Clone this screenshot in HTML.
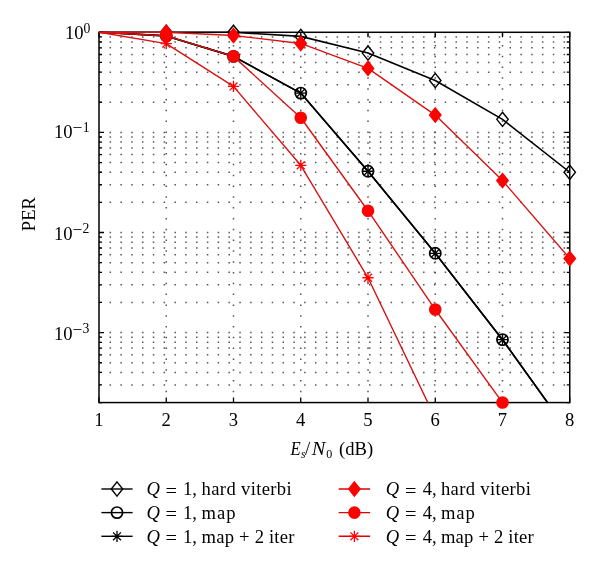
<!DOCTYPE html>
<html><head><meta charset="utf-8"><style>
html,body{margin:0;padding:0;background:#fff;}
svg{display:block;}
.t{font-family:"Liberation Serif",serif;font-size:18.6px;fill:#000;}
.sup{font-size:13.7px;}
.sub{font-size:12px;}
</style></head><body>
<svg width="600" height="569" viewBox="0 0 600 569">
<defs><clipPath id="c"><rect x="99.0" y="31.299999999999997" width="470.75" height="371.27"/></clipPath></defs>
<rect width="600" height="569" fill="#fff"/>
<line x1="166.25" y1="402.57" x2="166.25" y2="32.30" stroke="#555" stroke-width="1.5" stroke-dasharray="1.5 9.31" stroke-dashoffset="0.6"/>
<line x1="233.50" y1="402.57" x2="233.50" y2="32.30" stroke="#555" stroke-width="1.5" stroke-dasharray="1.5 9.31" stroke-dashoffset="0.6"/>
<line x1="300.75" y1="402.57" x2="300.75" y2="32.30" stroke="#555" stroke-width="1.5" stroke-dasharray="1.5 9.31" stroke-dashoffset="0.6"/>
<line x1="368.00" y1="402.57" x2="368.00" y2="32.30" stroke="#555" stroke-width="1.5" stroke-dasharray="1.5 9.31" stroke-dashoffset="0.6"/>
<line x1="435.25" y1="402.57" x2="435.25" y2="32.30" stroke="#555" stroke-width="1.5" stroke-dasharray="1.5 9.31" stroke-dashoffset="0.6"/>
<line x1="502.50" y1="402.57" x2="502.50" y2="32.30" stroke="#555" stroke-width="1.5" stroke-dasharray="1.5 9.31" stroke-dashoffset="0.6"/>
<line x1="99.00" y1="384.94" x2="569.75" y2="384.94" stroke="#555" stroke-width="1.5" stroke-dasharray="1.5 9.31" stroke-dashoffset="0.25"/>
<line x1="99.00" y1="372.43" x2="569.75" y2="372.43" stroke="#555" stroke-width="1.5" stroke-dasharray="1.5 9.31" stroke-dashoffset="0.25"/>
<line x1="99.00" y1="362.73" x2="569.75" y2="362.73" stroke="#555" stroke-width="1.5" stroke-dasharray="1.5 9.31" stroke-dashoffset="0.25"/>
<line x1="99.00" y1="354.81" x2="569.75" y2="354.81" stroke="#555" stroke-width="1.5" stroke-dasharray="1.5 9.31" stroke-dashoffset="0.25"/>
<line x1="99.00" y1="348.11" x2="569.75" y2="348.11" stroke="#555" stroke-width="1.5" stroke-dasharray="1.5 9.31" stroke-dashoffset="0.25"/>
<line x1="99.00" y1="342.30" x2="569.75" y2="342.30" stroke="#555" stroke-width="1.5" stroke-dasharray="1.5 9.31" stroke-dashoffset="0.25"/>
<line x1="99.00" y1="337.18" x2="569.75" y2="337.18" stroke="#555" stroke-width="1.5" stroke-dasharray="1.5 9.31" stroke-dashoffset="0.25"/>
<line x1="99.00" y1="332.60" x2="569.75" y2="332.60" stroke="#555" stroke-width="1.5" stroke-dasharray="1.5 9.31" stroke-dashoffset="0.25"/>
<line x1="99.00" y1="302.47" x2="569.75" y2="302.47" stroke="#555" stroke-width="1.5" stroke-dasharray="1.5 9.31" stroke-dashoffset="0.25"/>
<line x1="99.00" y1="284.84" x2="569.75" y2="284.84" stroke="#555" stroke-width="1.5" stroke-dasharray="1.5 9.31" stroke-dashoffset="0.25"/>
<line x1="99.00" y1="272.33" x2="569.75" y2="272.33" stroke="#555" stroke-width="1.5" stroke-dasharray="1.5 9.31" stroke-dashoffset="0.25"/>
<line x1="99.00" y1="262.63" x2="569.75" y2="262.63" stroke="#555" stroke-width="1.5" stroke-dasharray="1.5 9.31" stroke-dashoffset="0.25"/>
<line x1="99.00" y1="254.71" x2="569.75" y2="254.71" stroke="#555" stroke-width="1.5" stroke-dasharray="1.5 9.31" stroke-dashoffset="0.25"/>
<line x1="99.00" y1="248.01" x2="569.75" y2="248.01" stroke="#555" stroke-width="1.5" stroke-dasharray="1.5 9.31" stroke-dashoffset="0.25"/>
<line x1="99.00" y1="242.20" x2="569.75" y2="242.20" stroke="#555" stroke-width="1.5" stroke-dasharray="1.5 9.31" stroke-dashoffset="0.25"/>
<line x1="99.00" y1="237.08" x2="569.75" y2="237.08" stroke="#555" stroke-width="1.5" stroke-dasharray="1.5 9.31" stroke-dashoffset="0.25"/>
<line x1="99.00" y1="232.50" x2="569.75" y2="232.50" stroke="#555" stroke-width="1.5" stroke-dasharray="1.5 9.31" stroke-dashoffset="0.25"/>
<line x1="99.00" y1="202.37" x2="569.75" y2="202.37" stroke="#555" stroke-width="1.5" stroke-dasharray="1.5 9.31" stroke-dashoffset="0.25"/>
<line x1="99.00" y1="184.74" x2="569.75" y2="184.74" stroke="#555" stroke-width="1.5" stroke-dasharray="1.5 9.31" stroke-dashoffset="0.25"/>
<line x1="99.00" y1="172.23" x2="569.75" y2="172.23" stroke="#555" stroke-width="1.5" stroke-dasharray="1.5 9.31" stroke-dashoffset="0.25"/>
<line x1="99.00" y1="162.53" x2="569.75" y2="162.53" stroke="#555" stroke-width="1.5" stroke-dasharray="1.5 9.31" stroke-dashoffset="0.25"/>
<line x1="99.00" y1="154.61" x2="569.75" y2="154.61" stroke="#555" stroke-width="1.5" stroke-dasharray="1.5 9.31" stroke-dashoffset="0.25"/>
<line x1="99.00" y1="147.91" x2="569.75" y2="147.91" stroke="#555" stroke-width="1.5" stroke-dasharray="1.5 9.31" stroke-dashoffset="0.25"/>
<line x1="99.00" y1="142.10" x2="569.75" y2="142.10" stroke="#555" stroke-width="1.5" stroke-dasharray="1.5 9.31" stroke-dashoffset="0.25"/>
<line x1="99.00" y1="136.98" x2="569.75" y2="136.98" stroke="#555" stroke-width="1.5" stroke-dasharray="1.5 9.31" stroke-dashoffset="0.25"/>
<line x1="99.00" y1="132.40" x2="569.75" y2="132.40" stroke="#555" stroke-width="1.5" stroke-dasharray="1.5 9.31" stroke-dashoffset="0.25"/>
<line x1="99.00" y1="102.27" x2="569.75" y2="102.27" stroke="#555" stroke-width="1.5" stroke-dasharray="1.5 9.31" stroke-dashoffset="0.25"/>
<line x1="99.00" y1="84.64" x2="569.75" y2="84.64" stroke="#555" stroke-width="1.5" stroke-dasharray="1.5 9.31" stroke-dashoffset="0.25"/>
<line x1="99.00" y1="72.13" x2="569.75" y2="72.13" stroke="#555" stroke-width="1.5" stroke-dasharray="1.5 9.31" stroke-dashoffset="0.25"/>
<line x1="99.00" y1="62.43" x2="569.75" y2="62.43" stroke="#555" stroke-width="1.5" stroke-dasharray="1.5 9.31" stroke-dashoffset="0.25"/>
<line x1="99.00" y1="54.51" x2="569.75" y2="54.51" stroke="#555" stroke-width="1.5" stroke-dasharray="1.5 9.31" stroke-dashoffset="0.25"/>
<line x1="99.00" y1="47.81" x2="569.75" y2="47.81" stroke="#555" stroke-width="1.5" stroke-dasharray="1.5 9.31" stroke-dashoffset="0.25"/>
<line x1="99.00" y1="42.00" x2="569.75" y2="42.00" stroke="#555" stroke-width="1.5" stroke-dasharray="1.5 9.31" stroke-dashoffset="0.25"/>
<line x1="99.00" y1="36.88" x2="569.75" y2="36.88" stroke="#555" stroke-width="1.5" stroke-dasharray="1.5 9.31" stroke-dashoffset="0.25"/>
<rect x="99.00" y="32.30" width="470.75" height="370.27" fill="none" stroke="#000" stroke-width="1.5"/>
<path d="M99.00 402.57v-5M99.00 32.30v5M166.25 402.57v-5M166.25 32.30v5M233.50 402.57v-5M233.50 32.30v5M300.75 402.57v-5M300.75 32.30v5M368.00 402.57v-5M368.00 32.30v5M435.25 402.57v-5M435.25 32.30v5M502.50 402.57v-5M502.50 32.30v5M569.75 402.57v-5M569.75 32.30v5M99.00 402.57h3M569.75 402.57h-3M99.00 384.94h3M569.75 384.94h-3M99.00 372.43h3M569.75 372.43h-3M99.00 362.73h3M569.75 362.73h-3M99.00 354.81h3M569.75 354.81h-3M99.00 348.11h3M569.75 348.11h-3M99.00 342.30h3M569.75 342.30h-3M99.00 337.18h3M569.75 337.18h-3M99.00 332.60h5M569.75 332.60h-5M99.00 302.47h3M569.75 302.47h-3M99.00 284.84h3M569.75 284.84h-3M99.00 272.33h3M569.75 272.33h-3M99.00 262.63h3M569.75 262.63h-3M99.00 254.71h3M569.75 254.71h-3M99.00 248.01h3M569.75 248.01h-3M99.00 242.20h3M569.75 242.20h-3M99.00 237.08h3M569.75 237.08h-3M99.00 232.50h5M569.75 232.50h-5M99.00 202.37h3M569.75 202.37h-3M99.00 184.74h3M569.75 184.74h-3M99.00 172.23h3M569.75 172.23h-3M99.00 162.53h3M569.75 162.53h-3M99.00 154.61h3M569.75 154.61h-3M99.00 147.91h3M569.75 147.91h-3M99.00 142.10h3M569.75 142.10h-3M99.00 136.98h3M569.75 136.98h-3M99.00 132.40h5M569.75 132.40h-5M99.00 102.27h3M569.75 102.27h-3M99.00 84.64h3M569.75 84.64h-3M99.00 72.13h3M569.75 72.13h-3M99.00 62.43h3M569.75 62.43h-3M99.00 54.51h3M569.75 54.51h-3M99.00 47.81h3M569.75 47.81h-3M99.00 42.00h3M569.75 42.00h-3M99.00 36.88h3M569.75 36.88h-3M99.00 32.30h5M569.75 32.30h-5" stroke="#000" stroke-width="1.3" fill="none"/>
<polyline points="99.00,32.30 166.25,32.30 233.50,32.30 300.75,36.40 368.00,53.08 435.25,80.50 502.50,119.35 569.75,172.23" fill="none" stroke="#000" stroke-width="1.6" stroke-linejoin="round" clip-path="url(#c)"/>
<path d="M166.25 25.20L171.95 32.30L166.25 39.40L160.55 32.30Z" fill="none" stroke="#000" stroke-width="1.4"/><path d="M233.50 25.20L239.20 32.30L233.50 39.40L227.80 32.30Z" fill="none" stroke="#000" stroke-width="1.4"/><path d="M300.75 29.30L306.45 36.40L300.75 43.50L295.05 36.40Z" fill="none" stroke="#000" stroke-width="1.4"/><path d="M368.00 45.98L373.70 53.08L368.00 60.18L362.30 53.08Z" fill="none" stroke="#000" stroke-width="1.4"/><path d="M435.25 73.40L440.95 80.50L435.25 87.60L429.55 80.50Z" fill="none" stroke="#000" stroke-width="1.4"/><path d="M502.50 112.25L508.20 119.35L502.50 126.45L496.80 119.35Z" fill="none" stroke="#000" stroke-width="1.4"/><path d="M569.75 165.13L575.45 172.23L569.75 179.33L564.05 172.23Z" fill="none" stroke="#000" stroke-width="1.4"/>
<polyline points="99.00,32.30 166.25,35.92 233.50,56.36 300.75,93.09 368.00,171.27 435.25,253.28 502.50,339.67 569.75,433.58" fill="none" stroke="#000" stroke-width="1.6" stroke-linejoin="round" clip-path="url(#c)"/>
<circle cx="166.25" cy="35.92" r="5.6" fill="none" stroke="#000" stroke-width="1.7"/><circle cx="233.50" cy="56.36" r="5.6" fill="none" stroke="#000" stroke-width="1.7"/><circle cx="300.75" cy="93.09" r="5.6" fill="none" stroke="#000" stroke-width="1.7"/><circle cx="368.00" cy="171.27" r="5.6" fill="none" stroke="#000" stroke-width="1.7"/><circle cx="435.25" cy="253.28" r="5.6" fill="none" stroke="#000" stroke-width="1.7"/><circle cx="502.50" cy="339.67" r="5.6" fill="none" stroke="#000" stroke-width="1.7"/>
<polyline points="99.00,32.30 166.25,35.92 233.50,56.36 300.75,93.09 368.00,171.27 435.25,253.28 502.50,339.67 569.75,433.58" fill="none" stroke="#000" stroke-width="1.6" stroke-linejoin="round" clip-path="url(#c)"/>
<path d="M160.65 35.92h11.20M166.25 30.32v11.20M162.29 31.97l7.92 7.92M162.29 39.88l7.92 -7.92" stroke="#000" stroke-width="1.3" fill="none"/><path d="M227.90 56.36h11.20M233.50 50.76v11.20M229.54 52.40l7.92 7.92M229.54 60.32l7.92 -7.92" stroke="#000" stroke-width="1.3" fill="none"/><path d="M295.15 93.09h11.20M300.75 87.49v11.20M296.79 89.13l7.92 7.92M296.79 97.05l7.92 -7.92" stroke="#000" stroke-width="1.3" fill="none"/><path d="M362.40 171.27h11.20M368.00 165.67v11.20M364.04 167.31l7.92 7.92M364.04 175.23l7.92 -7.92" stroke="#000" stroke-width="1.3" fill="none"/><path d="M429.65 253.28h11.20M435.25 247.68v11.20M431.29 249.32l7.92 7.92M431.29 257.24l7.92 -7.92" stroke="#000" stroke-width="1.3" fill="none"/><path d="M496.90 339.67h11.20M502.50 334.07v11.20M498.54 335.71l7.92 7.92M498.54 343.62l7.92 -7.92" stroke="#000" stroke-width="1.3" fill="none"/>
<polyline points="99.00,32.30 166.25,32.30 233.50,35.45 300.75,43.44 368.00,68.39 435.25,115.06 502.50,180.60 569.75,258.49" fill="none" stroke="#d81212" stroke-width="1.4" stroke-linejoin="round" clip-path="url(#c)"/>
<path d="M166.25 25.20L171.95 32.30L166.25 39.40L160.55 32.30Z" fill="#ff0000" stroke="#ff0000" stroke-width="1.4"/><path d="M233.50 28.35L239.20 35.45L233.50 42.55L227.80 35.45Z" fill="#ff0000" stroke="#ff0000" stroke-width="1.4"/><path d="M300.75 36.34L306.45 43.44L300.75 50.54L295.05 43.44Z" fill="#ff0000" stroke="#ff0000" stroke-width="1.4"/><path d="M368.00 61.29L373.70 68.39L368.00 75.49L362.30 68.39Z" fill="#ff0000" stroke="#ff0000" stroke-width="1.4"/><path d="M435.25 107.96L440.95 115.06L435.25 122.16L429.55 115.06Z" fill="#ff0000" stroke="#ff0000" stroke-width="1.4"/><path d="M502.50 173.50L508.20 180.60L502.50 187.70L496.80 180.60Z" fill="#ff0000" stroke="#ff0000" stroke-width="1.4"/><path d="M569.75 251.39L575.45 258.49L569.75 265.59L564.05 258.49Z" fill="#ff0000" stroke="#ff0000" stroke-width="1.4"/>
<polyline points="99.00,32.30 166.25,35.92 233.50,56.36 300.75,117.77 368.00,210.73 435.25,309.53 502.50,402.57 569.75,498.52" fill="none" stroke="#d81212" stroke-width="1.4" stroke-linejoin="round" clip-path="url(#c)"/>
<circle cx="166.25" cy="35.92" r="5.6" fill="#ff0000" stroke="#ff0000" stroke-width="1.4"/><circle cx="233.50" cy="56.36" r="5.6" fill="#ff0000" stroke="#ff0000" stroke-width="1.4"/><circle cx="300.75" cy="117.77" r="5.6" fill="#ff0000" stroke="#ff0000" stroke-width="1.4"/><circle cx="368.00" cy="210.73" r="5.6" fill="#ff0000" stroke="#ff0000" stroke-width="1.4"/><circle cx="435.25" cy="309.53" r="5.6" fill="#ff0000" stroke="#ff0000" stroke-width="1.4"/><circle cx="502.50" cy="402.57" r="5.6" fill="#ff0000" stroke="#ff0000" stroke-width="1.4"/>
<polyline points="99.00,32.30 166.25,43.66 233.50,86.41 300.75,165.32 368.00,277.77 435.25,418.07" fill="none" stroke="#d81212" stroke-width="1.4" stroke-linejoin="round" clip-path="url(#c)"/>
<path d="M160.65 43.66h11.20M166.25 38.06v11.20M162.29 39.70l7.92 7.92M162.29 47.62l7.92 -7.92" stroke="#ff0000" stroke-width="1.3" fill="none"/><path d="M227.90 86.41h11.20M233.50 80.81v11.20M229.54 82.46l7.92 7.92M229.54 90.37l7.92 -7.92" stroke="#ff0000" stroke-width="1.3" fill="none"/><path d="M295.15 165.32h11.20M300.75 159.72v11.20M296.79 161.36l7.92 7.92M296.79 169.28l7.92 -7.92" stroke="#ff0000" stroke-width="1.3" fill="none"/><path d="M362.40 277.77h11.20M368.00 272.17v11.20M364.04 273.81l7.92 7.92M364.04 281.73l7.92 -7.92" stroke="#ff0000" stroke-width="1.3" fill="none"/>
<text x="99.00" y="426.3" text-anchor="middle" class="t">1</text>
<text x="166.25" y="426.3" text-anchor="middle" class="t">2</text>
<text x="233.50" y="426.3" text-anchor="middle" class="t">3</text>
<text x="300.75" y="426.3" text-anchor="middle" class="t">4</text>
<text x="368.00" y="426.3" text-anchor="middle" class="t">5</text>
<text x="435.25" y="426.3" text-anchor="middle" class="t">6</text>
<text x="502.50" y="426.3" text-anchor="middle" class="t">7</text>
<text x="569.75" y="426.3" text-anchor="middle" class="t">8</text>
<text x="65.0" y="39.4" class="t">10</text>
<text x="83.6" y="33.00" class="t sup">0</text>
<text x="54.0" y="138.1" class="t">10</text>
<text x="72.4" y="133.20" class="t" style="font-size:17.5px">−</text>
<text x="82.8" y="131.70" class="t sup">1</text>
<text x="54.0" y="239.7" class="t">10</text>
<text x="72.4" y="234.80" class="t" style="font-size:17.5px">−</text>
<text x="82.6" y="233.30" class="t sup">2</text>
<text x="54.0" y="339.5" class="t">10</text>
<text x="72.4" y="334.60" class="t" style="font-size:17.5px">−</text>
<text x="82.6" y="333.10" class="t sup">3</text>
<text x="290.40" y="455.40" class="t" font-style="italic" textLength="10.2" lengthAdjust="spacingAndGlyphs">E</text>
<text x="300.90" y="457.60" class="t sub" font-style="italic" style="font-size:11.5px">s</text>
<text x="305.00" y="455.40" class="t">/</text>
<text x="311.70" y="455.40" class="t" font-style="italic" textLength="13.6" lengthAdjust="spacingAndGlyphs">N</text>
<text x="326.30" y="457.60" class="t sub">0</text>
<text x="339.00" y="455.40" class="t">(dB)</text>
<text transform="translate(35.0,214.15) rotate(-90)" text-anchor="middle" class="t">PER</text>
<line x1="101.4" y1="489.0" x2="132.6" y2="489.0" stroke="#000" stroke-width="1.4"/>
<path d="M117.00 481.90L122.70 489.00L117.00 496.10L111.30 489.00Z" fill="none" stroke="#000" stroke-width="1.4"/>
<text x="146.40" y="495.3" class="t" font-style="italic">Q</text>
<text x="165.60" y="496.70" class="t" textLength="11.5" lengthAdjust="spacingAndGlyphs">=</text>
<text x="183.00" y="495.3" class="t">1,</text>
<text x="201.60" y="495.3" class="t" textLength="90.0" lengthAdjust="spacing">hard viterbi</text>
<line x1="338.7" y1="489.0" x2="370.1" y2="489.0" stroke="#e00000" stroke-width="1.4"/>
<path d="M354.40 481.90L360.10 489.00L354.40 496.10L348.70 489.00Z" fill="#ff0000" stroke="#ff0000" stroke-width="1.4"/>
<text x="385.70" y="495.3" class="t" font-style="italic">Q</text>
<text x="404.90" y="496.70" class="t" textLength="11.5" lengthAdjust="spacingAndGlyphs">=</text>
<text x="422.70" y="495.3" class="t">4,</text>
<text x="440.90" y="495.3" class="t" textLength="90.0" lengthAdjust="spacing">hard viterbi</text>
<line x1="101.4" y1="512.6" x2="132.6" y2="512.6" stroke="#000" stroke-width="1.4"/>
<circle cx="117.00" cy="512.60" r="5.6" fill="none" stroke="#000" stroke-width="1.7"/>
<text x="146.40" y="518.9" class="t" font-style="italic">Q</text>
<text x="165.60" y="520.30" class="t" textLength="11.5" lengthAdjust="spacingAndGlyphs">=</text>
<text x="183.00" y="518.9" class="t">1,</text>
<text x="201.60" y="518.9" class="t" textLength="34.0" lengthAdjust="spacing">map</text>
<line x1="338.7" y1="512.6" x2="370.1" y2="512.6" stroke="#e00000" stroke-width="1.4"/>
<circle cx="354.40" cy="512.60" r="5.6" fill="#ff0000" stroke="#ff0000" stroke-width="1.4"/>
<text x="385.70" y="518.9" class="t" font-style="italic">Q</text>
<text x="404.90" y="520.30" class="t" textLength="11.5" lengthAdjust="spacingAndGlyphs">=</text>
<text x="422.70" y="518.9" class="t">4,</text>
<text x="440.90" y="518.9" class="t" textLength="34.0" lengthAdjust="spacing">map</text>
<line x1="101.4" y1="536.3" x2="132.6" y2="536.3" stroke="#000" stroke-width="1.4"/>
<path d="M111.40 536.30h11.20M117.00 530.70v11.20M113.04 532.34l7.92 7.92M113.04 540.26l7.92 -7.92" stroke="#000" stroke-width="1.3" fill="none"/>
<text x="146.40" y="542.6" class="t" font-style="italic">Q</text>
<text x="165.60" y="544.00" class="t" textLength="11.5" lengthAdjust="spacingAndGlyphs">=</text>
<text x="183.00" y="542.6" class="t">1,</text>
<text x="201.60" y="542.6" class="t" textLength="92.8" lengthAdjust="spacing">map + 2 iter</text>
<line x1="338.7" y1="536.3" x2="370.1" y2="536.3" stroke="#e00000" stroke-width="1.4"/>
<path d="M348.80 536.30h11.20M354.40 530.70v11.20M350.44 532.34l7.92 7.92M350.44 540.26l7.92 -7.92" stroke="#ff0000" stroke-width="1.3" fill="none"/>
<text x="385.70" y="542.6" class="t" font-style="italic">Q</text>
<text x="404.90" y="544.00" class="t" textLength="11.5" lengthAdjust="spacingAndGlyphs">=</text>
<text x="422.70" y="542.6" class="t">4,</text>
<text x="440.90" y="542.6" class="t" textLength="92.8" lengthAdjust="spacing">map + 2 iter</text>
</svg>
</body></html>
